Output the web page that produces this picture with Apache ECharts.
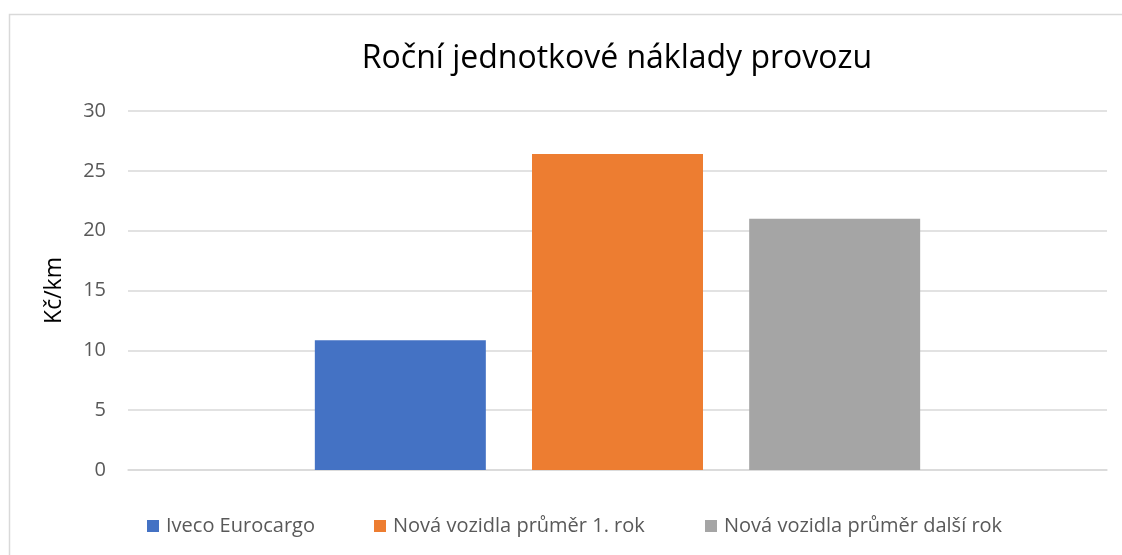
<!DOCTYPE html>
<html>
<head>
<meta charset="utf-8">
<script src="https://cdn.jsdelivr.net/npm/echarts@6/dist/echarts.min.js"></script>
<style>
  html, body { margin: 0; padding: 0; background: #fff; }
  #chart { width: 1122px; height: 555px; }
</style>
</head>
<body>
<div id="chart"></div>
<script>
// data
const categories = [''];
const seriesNames = ['Iveco Eurocargo', 'Nová vozidla průměr 1. rok', 'Nová vozidla průměr další rok'];
const seriesValues = [[10.85], [26.4], [21.0]];
const colors = ['#4472c4', '#ed7d31', '#a5a5a5'];
const yTicks = { min: 0, max: 30, interval: 5 };

const font = '"Open Sans", "Noto Sans", sans-serif';
const legendLefts = [142, 369, 700];

const chart = echarts.init(document.getElementById('chart'));

const series = seriesNames.map((name, i) => ({
  name: name,
  type: 'bar',
  data: seriesValues[i],
  barWidth: 171,
  barGap: '27%',
  itemStyle: { color: colors[i] },
  animation: false
}));

// one legend per item so each sits where the reference has it
const legends = seriesNames.map((name, i) => ({
  data: [name],
  top: 511,
  left: legendLefts[i],
  itemWidth: 12,
  itemHeight: 12,
  itemGap: 0,
  icon: 'rect',
  textStyle: { fontFamily: font, fontSize: 20, color: '#595959', padding: [0, 0, 0, 2] }
}));

chart.setOption({
  backgroundColor: '#fff',
  animation: false,
  title: {
    text: 'Roční jednotkové náklady provozu',
    left: 612,
    top: 38,
    textAlign: 'center',
    textStyle: { fontFamily: font, fontSize: 32, fontWeight: 'normal', color: '#000' }
  },
  graphic: [{
    type: 'rect',
    left: 7, top: 12,
    shape: { width: 1130, height: 560 },
    style: { fill: 'none', stroke: '#d9d9d9', lineWidth: 1.5 },
    silent: true
  }],
  legend: legends,
  grid: { left: 128, right: 15, top: 111, bottom: 85 },
  xAxis: {
    type: 'category',
    data: categories,
    axisLine: { lineStyle: { color: '#d9d9d9', width: 1.5 } },
    axisTick: { show: false },
    axisLabel: { show: false }
  },
  yAxis: {
    type: 'value',
    min: yTicks.min,
    max: yTicks.max,
    interval: yTicks.interval,
    name: 'Kč/km',
    nameLocation: 'middle',
    nameGap: 62,
    nameTextStyle: { fontFamily: font, fontSize: 23, color: '#000' },
    axisLine: { show: false },
    axisTick: { show: false },
    axisLabel: { fontFamily: font, fontSize: 20, color: '#595959', margin: 22 },
    splitLine: { lineStyle: { color: '#d9d9d9', width: 1.5 } }
  },
  series: series
});
</script>
</body>
</html>
